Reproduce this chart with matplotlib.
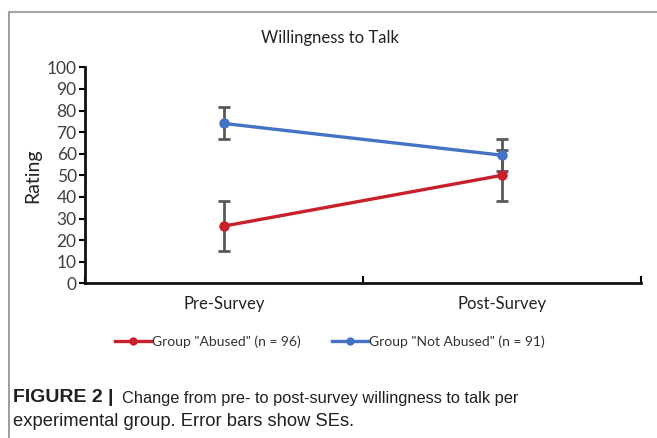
import matplotlib
matplotlib.use("Agg")
import matplotlib.pyplot as plt
from matplotlib.lines import Line2D

categories = ["Pre-Survey", "Post-Survey"]
abused_mean = [26.5, 50.0]
abused_se = [11.7, 11.7]
not_abused_mean = [74.0, 59.3]
not_abused_se = [7.4, 7.3]
series_labels = ['Group "Abused" (n = 96)', 'Group "Not Abused" (n = 91)']
yticks = list(range(0, 101, 10))

W, H = 657, 438
fig = plt.figure(figsize=(W / 100, H / 100), dpi=100)
plt.rcParams['font.family'] = ['Lato', 'DejaVu Sans']

# frame lines (top and left)
fig.add_artist(Line2D([9 / W, 9 / W], [0, 1 - 12 / H], color="#8c8c8c", lw=1.2))
fig.add_artist(Line2D([9 / W, 1], [1 - 12 / H, 1 - 12 / H], color="#a6a6a6", lw=1.5))

x0, x1 = 85, 641
y0, y1 = 283.3, 67.3
ax = fig.add_axes([x0 / W, 1 - y0 / H, (x1 - x0) / W, (y0 - y1) / H])
ax.set_xlim(0, 2)
ax.set_ylim(0, 100)
xs = [0.5, 1.5]

red = "#C8202A"
blue = "#4472C4"
errc = "#595959"
ax.errorbar(xs, abused_mean, yerr=abused_se, fmt="none", ecolor=errc, elinewidth=2.0,
            capsize=4, capthick=2.0, zorder=2)
ax.errorbar(xs, not_abused_mean, yerr=not_abused_se, fmt="none", ecolor=errc, elinewidth=2.0,
            capsize=4, capthick=2.0, zorder=2)
ax.plot(xs, abused_mean, color=red, lw=2.4, marker="o", ms=6.5, zorder=3)
ax.plot(xs, not_abused_mean, color=blue, lw=2.4, marker="o", ms=6.5, zorder=3)

for s in ["top", "right"]:
    ax.spines[s].set_visible(False)
for s in ["left", "bottom"]:
    ax.spines[s].set_linewidth(2.0)
    ax.spines[s].set_color("#111111")

ax.set_yticks(yticks)
ax.set_yticklabels([str(v) for v in yticks], fontsize=12.5, color="#404040")
ax.tick_params(axis="y", direction="out", length=4, width=1.5, pad=2)
ax.set_xticks([0, 1, 2])
ax.set_xticklabels([])
ax.tick_params(axis="x", direction="in", length=5, width=1.5)
for x, c in zip(xs, categories):
    ax.text(x, -9.5, c, ha="center", va="center", fontsize=12, color="#222222",
            transform=ax.transData, clip_on=False)
ax.set_ylabel("Rating", fontsize=14, color="#222222", labelpad=4)

fig.text(330 / W, 1 - 38 / H, "Willingness to Talk", ha="center", va="center",
         fontsize=12, color="#222222")

handles = [Line2D([], [], color=red, lw=2.4, marker="o", ms=5),
           Line2D([], [], color=blue, lw=2.4, marker="o", ms=5)]
fig.legend(handles, series_labels, loc="center", bbox_to_anchor=(330 / W, 1 - 342 / H),
           ncol=2, frameon=False, fontsize=10, handlelength=2.6, handletextpad=0.1,
           columnspacing=2.2, labelcolor="#333333")

cap_font = ['Liberation Sans', 'DejaVu Sans']
t1 = fig.text(13 / W, 1 - 398 / H, "FIGURE 2 | ", fontweight="bold", fontsize=14,
              family=cap_font, va="center", ha="left", color="#231f20")
fig.canvas.draw()
bb = t1.get_window_extent()
fig.text(bb.x1 / W + 0.004, 1 - 398 / H,
         "Change from pre- to post-survey willingness to talk per",
         fontsize=11.8, family=cap_font, va="center", ha="left", color="#231f20")
fig.text(13 / W, 1 - 421 / H, "experimental group. Error bars show SEs.",
         fontsize=13.2, family=cap_font, va="center", ha="left", color="#231f20")

fig.savefig("out.png", dpi=100)
